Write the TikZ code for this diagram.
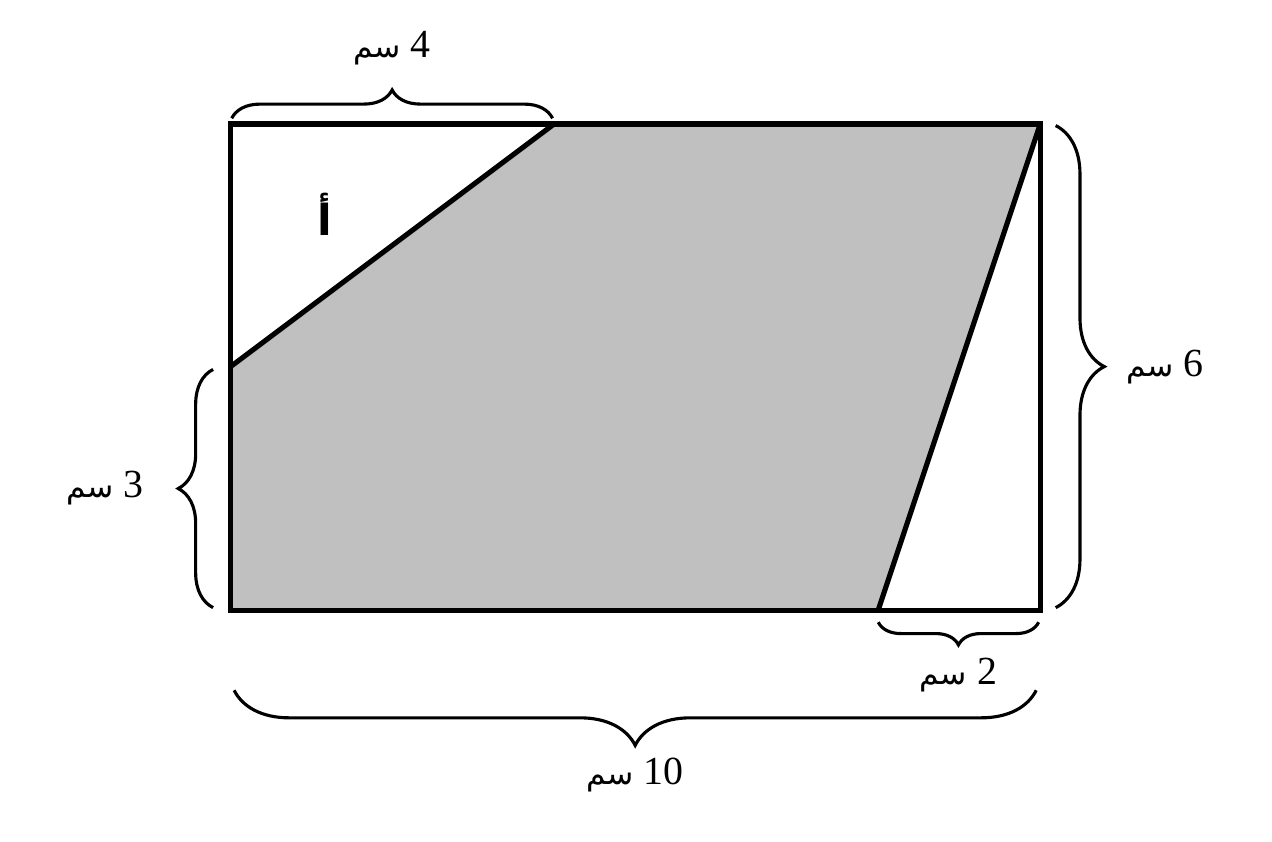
\documentclass[tikz,border=0pt]{standalone}
\usepackage{fontspec}
\setmainfont{Liberation Serif}
\newfontfamily\arabicfont[Script=Arabic]{DejaVu Sans}
\TeXXeTstate=1
\usetikzlibrary{decorations.pathreplacing,positioning}
\definecolor{regiongray}{RGB}{192,192,192}
\newcommand{\cmlabel}[1]{\beginR\beginL#1\endL\ {\arabicfont\fontsize{11}{13}\selectfont سم}\endR}
\tikzset{
  edge/.style={line width=1.8pt},
  sizebrace/.style={decorate,decoration={brace,amplitude=#1},line width=1.1pt},
  sizelabel/.style={font=\fontsize{14}{16}\selectfont}
}

\begin{document}
\begin{tikzpicture}
    \useasboundingbox (-2.84,-2.86) rectangle (12.86,7.53);
    \coordinate (A) at (0,0);
    \coordinate (B) at (10,0);
    \coordinate (C) at (10,6);
    \coordinate (D) at (0,6);
    \coordinate (P) at (0,3);
    \coordinate (Q) at (4,6);
    \coordinate (R) at (8,0);
    \fill[regiongray] (A) -- (P) -- (Q) -- (C) -- (R) -- cycle;
    \draw[edge] (A) -- (B) -- (C) -- (D) -- cycle;
    \draw[edge] (P) -- (Q);
    \draw[edge] (R) -- (C);
    \node[font=\arabicfont\bfseries\fontsize{15}{17}\selectfont] (alef) at (1.17,4.88) {أ};

    % braces
    \draw[sizebrace=0.35cm] (0.02,6.07) -- (3.98,6.07)
        node[midway,yshift=0.87cm,sizelabel] (top) {\cmlabel{4}};
    \draw[sizebrace=0.43cm] (-0.21,0.03) -- (-0.21,2.97)
        node[midway,xshift=-1.33cm,sizelabel] (left) {\cmlabel{3}};
    \draw[sizebrace=0.6cm] (10.19,5.98) -- (10.19,0.03)
        node[midway,xshift=1.35cm,sizelabel] (right) {\cmlabel{6}};
    \draw[sizebrace=0.28cm] (9.98,-0.15) -- (8.0,-0.15)
        node[midway,yshift=-0.65cm,sizelabel] (small) {\cmlabel{2}};
    \draw[sizebrace=0.68cm] (9.95,-0.99) -- (0.05,-0.99)
        node[midway,yshift=-1.05cm,sizelabel] (base) {\cmlabel{10}};
\end{tikzpicture}
\end{document}
